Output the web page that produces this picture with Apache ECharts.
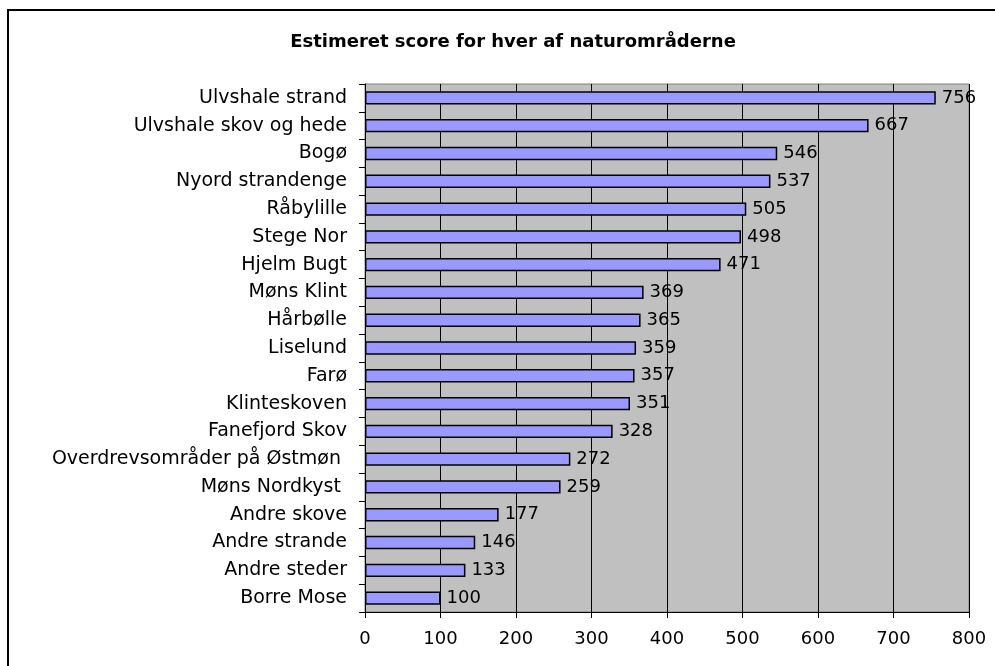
<!DOCTYPE html>
<html>
<head>
<meta charset="utf-8">
<script src="https://cdn.jsdelivr.net/npm/echarts@6/dist/echarts.min.js"></script>
<style>html,body{margin:0;padding:0;background:#fff;}#c{width:995px;height:666px;}</style>
</head>
<body>
<div id="c"></div>
<script>
const titleText = 'Estimeret score for hver af naturområderne';
const categories = ['Ulvshale strand','Ulvshale skov og hede','Bogø','Nyord strandenge','Råbylille','Stege Nor','Hjelm Bugt','Møns Klint','Hårbølle','Liselund','Farø','Klinteskoven','Fanefjord Skov','Overdrevsområder på Østmøn ','Møns Nordkyst ','Andre skove','Andre strande','Andre steder','Borre Mose'];
const values = [756,667,546,537,505,498,471,369,365,359,357,351,328,272,259,177,146,133,100];
const xTicks = [0,100,200,300,400,500,600,700,800];

const chart = echarts.init(document.getElementById('c'));
const font = 'DejaVu Sans, Verdana, sans-serif';
chart.setOption({
  animation: false,
  title: {text: titleText, left: 508, textAlign: 'center', top: 28,
    textStyle: {fontFamily: font, fontWeight: 'bold', fontSize: 18, color: '#000'}},
  graphic: [{type: 'rect', shape: {x: 8, y: 10, width: 1100, height: 800}, style: {fill: 'none', stroke: '#000', lineWidth: 2}, z: 100}],
  grid: {left: 365, right: 26, top: 84, bottom: 54, show: true, backgroundColor: '#c0c0c0', borderColor: '#808080', borderWidth: 1},
  xAxis: {type: 'value', min: xTicks[0], max: xTicks[xTicks.length-1], interval: 100,
    axisLine: {show: true, lineStyle: {color: '#000', width: 1}},
    axisTick: {show: true, length: 6, lineStyle: {color: '#000'}},
    axisLabel: {fontFamily: font, fontSize: 18, color: '#000', margin: 18},
    splitLine: {show: true, lineStyle: {color: '#000', width: 1}}},
  yAxis: {type: 'category', data: categories, inverse: true,
    axisLine: {show: true, lineStyle: {color: '#000', width: 1}},
    axisTick: {show: true, length: 6, lineStyle: {color: '#000'}},
    axisLabel: {fontFamily: font, fontSize: 19, color: '#000', margin: 18}},
  series: [{type: 'bar', data: values, barWidth: '48%',
    itemStyle: {color: '#9999ff', borderColor: '#000', borderWidth: 1.5},
    label: {show: true, position: 'right', distance: 6, fontFamily: font, fontSize: 18, color: '#000'}}]
});
</script>
</body>
</html>
